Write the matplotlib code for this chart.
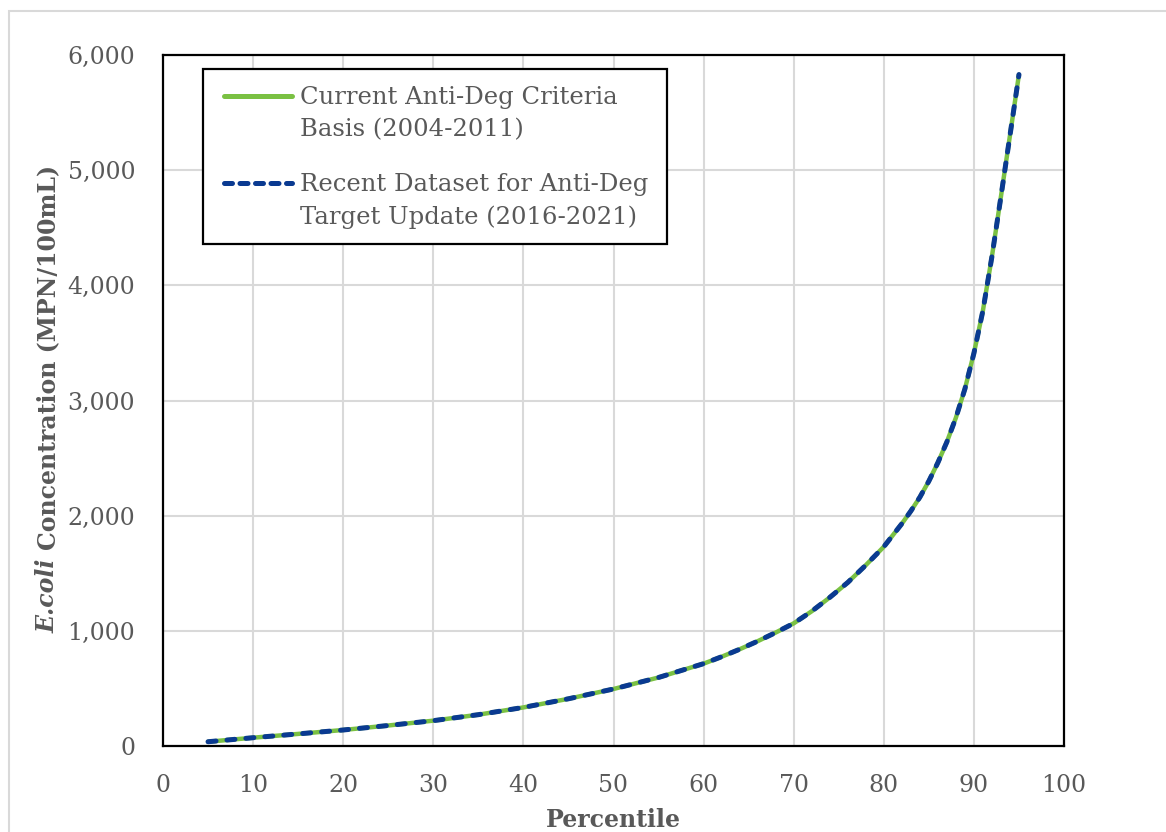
import matplotlib
matplotlib.use("Agg")
import matplotlib.pyplot as plt
from matplotlib.patches import Rectangle
from matplotlib.lines import Line2D
from matplotlib.ticker import FuncFormatter, MultipleLocator

# Percentile curves of E. coli concentration (MPN/100mL)
percentile = [5, 10, 15, 20, 25, 30, 35, 40, 45, 50, 55, 60, 62, 64, 66, 68, 70, 72, 74, 76,
              78, 80, 81, 82, 83, 84, 85, 86, 87, 88, 89, 90, 91, 92, 93, 94, 95]
current_basis = [37, 72, 105, 139, 178, 220, 272, 335, 410, 495, 595, 715, 775, 840, 910, 985,
                 1065, 1170, 1290, 1420, 1570, 1730, 1830, 1930, 2040, 2160, 2300, 2460, 2640,
                 2850, 3100, 3410, 3780, 4250, 4770, 5300, 5830]
recent_dataset = [37, 72, 105, 139, 178, 220, 272, 335, 410, 495, 595, 715, 775, 840, 910, 985,
                  1065, 1170, 1290, 1420, 1570, 1730, 1830, 1930, 2040, 2160, 2300, 2460, 2640,
                  2850, 3100, 3410, 3780, 4250, 4770, 5300, 5830]

label_current = "Current Anti-Deg Criteria\nBasis (2004-2011)"
label_recent = "Recent Dataset for Anti-Deg\nTarget Update (2016-2021)"

GREEN = "#7AC143"
BLUE = "#0A3A91"
TEXT = "#595959"
GRID = "#D9D9D9"
FONT = "DejaVu Serif"

plt.rcParams["font.family"] = FONT

W, H = 1166, 832
fig = plt.figure(figsize=(W / 100, H / 100), dpi=100)

# light chart-area border
fig.patches.append(Rectangle((9 / W, -0.05), 1.2, 1 - 11 / H + 0.05,
                             transform=fig.transFigure, fill=False,
                             edgecolor=GRID, linewidth=1.5, zorder=0))

ax = fig.add_axes([163 / W, 1 - 746 / H, (1064 - 163) / W, (746 - 55) / H])

lw = 3.6
ax.plot(percentile, current_basis, color=GREEN, linewidth=3.2,
        solid_capstyle="round", solid_joinstyle="round", zorder=3)
ax.plot(percentile, recent_dataset, color=BLUE, linewidth=lw,
        linestyle=(0, (1.6, 2.2)), dash_capstyle="round", dash_joinstyle="round", zorder=4)

ax.set_xlim(0, 100)
ax.set_ylim(0, 6000)
ax.xaxis.set_major_locator(MultipleLocator(10))
ax.yaxis.set_major_locator(MultipleLocator(1000))
ax.yaxis.set_major_formatter(FuncFormatter(lambda v, p: f"{v:,.0f}"))
ax.grid(True, color=GRID, linewidth=1.5, zorder=0)
ax.set_axisbelow(True)
for s in ax.spines.values():
    s.set_color("black")
    s.set_linewidth(1.6)
ax.tick_params(length=0, labelsize=17, labelcolor=TEXT)
ax.tick_params(axis="y", pad=20)
ax.tick_params(axis="x", pad=20)

ax.set_xlabel("Percentile", fontsize=17, fontweight="bold", color=TEXT, labelpad=8)

# y-axis label: italic bold species name followed by bold units text
label_x = 48 / W
label_bottom = 633 / H
p1 = fig.text(label_x, 1 - label_bottom, "E.coli ", rotation=90, ha="center", va="bottom",
              fontsize=17, fontweight="bold", fontstyle="italic", color=TEXT)
fig.canvas.draw()
b1 = p1.get_window_extent()
fig.text(label_x, b1.y1 / H, "Concentration (MPN/100mL)", rotation=90, ha="center",
         va="bottom", fontsize=17, fontweight="bold", color=TEXT)

# legend box
def px(x, y):
    return ((x - 163) / (1064 - 163), (746 - y) / (746 - 55))

lx0, ly0 = px(203, 244)
lx1, ly1 = px(667, 69)
ax.add_patch(Rectangle((lx0, ly0), lx1 - lx0, ly1 - ly0, transform=ax.transAxes,
                       facecolor="white", edgecolor="black", linewidth=1.6, zorder=10))
for label, color, style, hy, ty in [
        (label_current, GREEN, "-", 96, 86),
        (label_recent, BLUE, (0, (1.6, 1.5)), 183, 173)]:
    a = px(224, hy)
    b = px(292, hy)
    ax.add_line(Line2D([a[0], b[0]], [a[1], b[1]], transform=ax.transAxes,
                       color=color, linewidth=lw, linestyle=style,
                       solid_capstyle="round", dash_capstyle="round", zorder=11))
    tp = px(300, ty)
    ax.text(tp[0], tp[1], label, transform=ax.transAxes, ha="left", va="top",
            fontsize=17.5, color=TEXT, linespacing=1.5, zorder=12)

fig.savefig("out.png", dpi=100)
